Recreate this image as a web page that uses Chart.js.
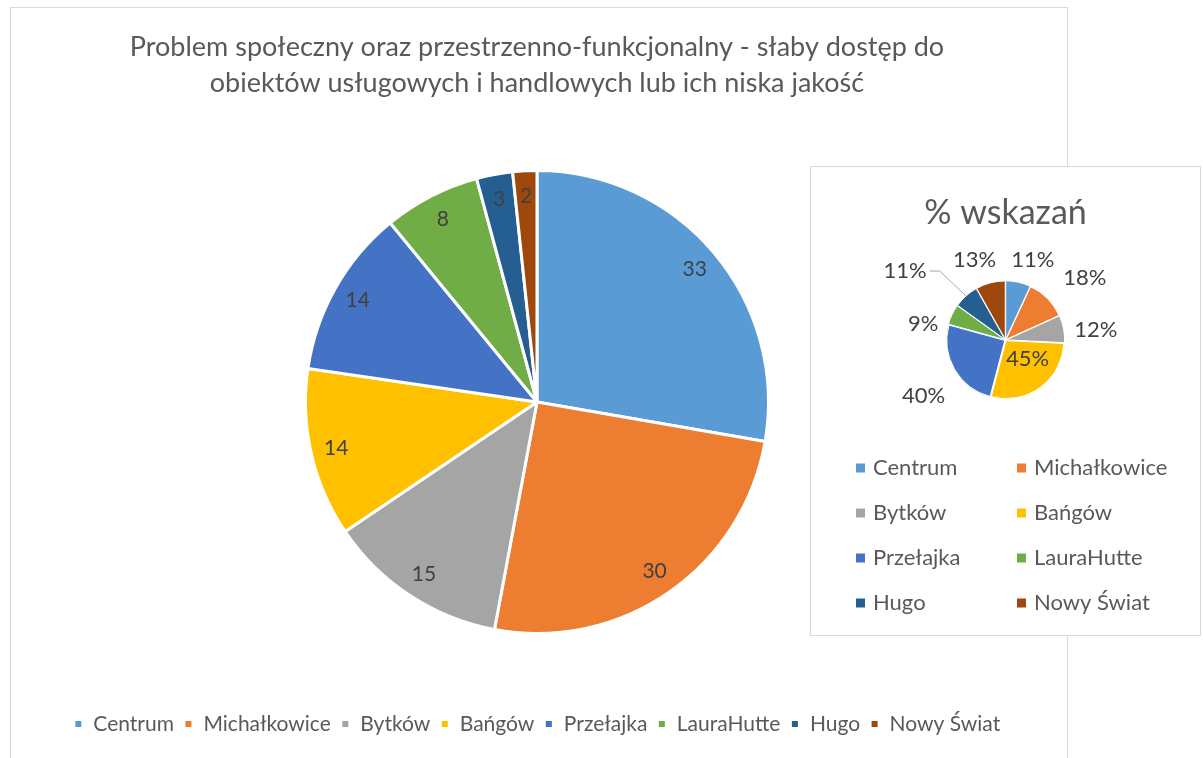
<!DOCTYPE html>
<html><head><meta charset="utf-8">
<script src="https://cdn.jsdelivr.net/npm/chart.js@4.4.0/dist/chart.umd.min.js"></script>
<style>
html,body{margin:0;padding:0;background:#fff;width:1203px;height:758px;overflow:hidden;}
#frame{position:absolute;left:10px;top:7px;width:1056px;height:800px;border:1px solid #d9d9d9;}
#main{position:absolute;left:0;top:0;}
#insetBox{position:absolute;left:810px;top:166px;width:389px;height:468px;border:1px solid #d9d9d9;background:#fff;}
#inset{position:absolute;left:0;top:0;}
</style></head>
<body>
<div id="frame"></div>
<canvas id="main" width="1203" height="758" style="width:1203px;height:758px"></canvas>
<div id="insetBox"><canvas id="inset" width="389" height="468" style="width:389px;height:468px"></canvas></div>
<script>
const categories = ['Centrum','Michałkowice','Bytków','Bańgów','Przełajka','LauraHutte','Hugo','Nowy Świat'];
const counts = [33,30,15,14,14,8,3,2];
const percents = [11,18,12,45,40,9,11,13];
const colors = ['#5B9BD5','#ED7D31','#A5A5A5','#FFC000','#4472C4','#70AD47','#255E91','#9E480E'];
const mainTitle = ['Problem społeczny oraz przestrzenno-funkcjonalny - słaby dostęp do','obiektów usługowych i handlowych lub ich niska jakość'];
const insetTitle = '% wskazań';

const FONT = 'Lato';
const TXT = '#595959';

const mainLabels = {
  id:'mainLabels',
  afterDatasetsDraw(chart){
    const ctx=chart.ctx, meta=chart.getDatasetMeta(0), data=chart.data.datasets[0].data;
    ctx.save();
    ctx.font='21px '+FONT; ctx.fillStyle='#404040'; ctx.textAlign='center'; ctx.textBaseline='middle';
    meta.data.forEach((arc,i)=>{
      const p=arc.getProps(['x','y','startAngle','endAngle','outerRadius'],true);
      const a=(p.startAngle+p.endAngle)/2, d=p.outerRadius*0.89;
      ctx.fillText(String(data[i]), p.x+Math.cos(a)*d, p.y+Math.sin(a)*d);
    });
    ctx.restore();
  }
};

new Chart(document.getElementById('main'),{
  type:'pie',
  data:{labels:categories,datasets:[{data:counts,backgroundColor:colors,borderColor:'#ffffff',borderWidth:3,hoverOffset:0}]},
  options:{
    responsive:false,animation:false,
    layout:{padding:{top:29,left:0,right:129,bottom:13.5}},
    plugins:{
      tooltip:{enabled:false},
      title:{display:true,text:mainTitle,color:TXT,font:{family:FONT,size:27,weight:'normal',lineHeight:36/27},padding:{top:0,bottom:68}},
      legend:{position:'bottom',
        title:{display:true,text:' ',font:{size:1},padding:{top:67.3,bottom:0}},
        labels:{color:TXT,font:{family:FONT,size:21},boxWidth:9,boxHeight:9,padding:10}}
    }
  },
  plugins:[mainLabels]
});

const insetLabels = {
  id:'insetLabels',
  afterDatasetsDraw(chart){
    const ctx=chart.ctx, meta=chart.getDatasetMeta(0), data=chart.data.datasets[0].data;
    const inside=[false,false,false,true,false,false,false,false];
    const leader=[false,false,false,false,false,false,true,false];
    const nudge=[[9,3],[13,4],[-2,7],[5,-4],[0,9],[-2,22],[-17,24],[-9,3]];
    ctx.save();
    ctx.font='22px '+FONT; ctx.fillStyle='#404040'; ctx.textAlign='center'; ctx.textBaseline='middle';
    meta.data.forEach((arc,i)=>{
      const p=arc.getProps(['x','y','startAngle','endAngle','outerRadius'],true);
      const off=arc.options.offset||0;
      const a=(p.startAngle+p.endAngle)/2;
      const txt=data[i]+'%';
      const hw=ctx.measureText(txt).width/2, hh=10;
      let d;
      if(inside[i]) d=p.outerRadius*0.5;
      else d=p.outerRadius+off+10+hw*Math.abs(Math.cos(a))+hh*Math.abs(Math.sin(a));
      if(leader[i]) d+=32;
      const lx=p.x+Math.cos(a)*d+nudge[i][0], ly=p.y+Math.sin(a)*d+nudge[i][1];
      ctx.fillText(txt,lx,ly);
      if(leader[i]){
        const ex=p.x+Math.cos(a)*(p.outerRadius+off-2), ey=p.y+Math.sin(a)*(p.outerRadius+off-2);
        ctx.strokeStyle='#a6a6a6'; ctx.lineWidth=1;
        ctx.beginPath(); ctx.moveTo(lx+hw+3,ly); ctx.lineTo(lx+hw+13,ly); ctx.lineTo(ex,ey); ctx.stroke();
      }
    });
    ctx.restore();
  }
};

const gridLegend = {
  id:'gridLegend',
  afterDraw(chart){
    const ctx=chart.ctx, ds=chart.data.datasets[0];
    const colX=[45,206], rowY=[301,346,391,436], box=9;
    ctx.save();
    ctx.font='22px '+FONT; ctx.textAlign='left'; ctx.textBaseline='middle';
    chart.data.labels.forEach((lab,i)=>{
      const cx=colX[i%2], cy=rowY[Math.floor(i/2)];
      ctx.fillStyle=ds.backgroundColor[i];
      ctx.fillRect(cx,cy-box/2,box,box);
      ctx.fillStyle=TXT;
      ctx.fillText(lab,cx+box+8,cy);
    });
    ctx.restore();
  }
};

new Chart(document.getElementById('inset'),{
  type:'pie',
  data:{labels:categories,datasets:[{data:percents,backgroundColor:colors,borderColor:'#ffffff',borderWidth:1,offset:3,hoverOffset:0}]},
  options:{
    responsive:false,animation:false,
    layout:{padding:{top:26,left:0,right:0,bottom:235}},
    plugins:{
      tooltip:{enabled:false},
      legend:{display:false},
      title:{display:true,text:insetTitle,color:TXT,font:{family:FONT,size:34,weight:'normal',lineHeight:1.2},padding:{top:0,bottom:46.2}}
    }
  },
  plugins:[insetLabels,gridLegend]
});
</script>
</body></html>
